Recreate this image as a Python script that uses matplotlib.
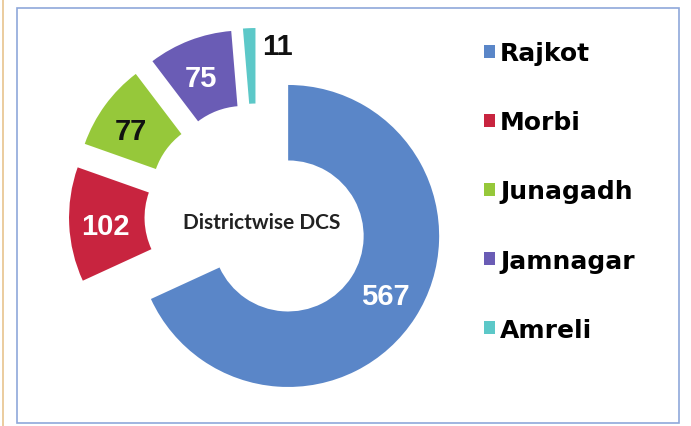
import matplotlib
matplotlib.use("Agg")
import matplotlib.pyplot as plt
from matplotlib.patches import Rectangle
import numpy as np

categories = ["Rajkot", "Morbi", "Junagadh", "Jamnagar", "Amreli"]
values = [567, 102, 77, 75, 11]
colors = ["#5A86C8", "#C8243F", "#96C83A", "#6A5CB5", "#5CC8C8"]
label_colors = ["white", "white", "#111111", "white", "#111111"]
explode = [0.245, 0.245, 0.245, 0.245, 0.245]
center_title = "Districtwise DCS"

W, H = 691, 427
fig = plt.figure(figsize=(W / 100, H / 100), dpi=100)
fig.patch.set_facecolor("white")

# frame
fig.patches.append(Rectangle((17 / W, 3 / H), (679 - 17) / W, (418 - 3) / H,
                             transform=fig.transFigure, fill=False,
                             edgecolor="#8FA8DA", linewidth=1.2))
fig.patches.append(Rectangle((2.5 / W, 0), 0.001, 1, transform=fig.transFigure,
                             fill=False, edgecolor="#E8C38E", linewidth=1.2))

ax = fig.add_axes([0, 0, 1, 1])
wedges, _ = ax.pie(values, explode=explode, colors=colors, startangle=90,
                   counterclock=False, radius=1.0,
                   wedgeprops=dict(width=0.5, linewidth=0))

s = 151.0  # px per unit radius
cx, cy = 257.0, 217.0
ax.set_xlim(-cx / s, (W - cx) / s)
ax.set_ylim(-(H - cy) / s, cy / s)
ax.set_aspect("auto")
ax.axis("off")

# value labels: (radial fraction, dx, dy) offsets in radius units
label_pos = [(0.70, 0.055, -0.02), (0.80, 0.04, -0.02), (0.80, 0.01, -0.05),
             (0.80, 0.0, -0.06), (1.0, 0.19, -0.12)]
for w, v, c, (lr, dx, dy) in zip(wedges, values, label_colors, label_pos):
    th = np.deg2rad((w.theta1 + w.theta2) / 2)
    ox, oy = w.center
    x = ox + lr * np.cos(th) + dx
    y = oy + lr * np.sin(th) + dy
    ax.text(x, y, str(v), ha="center", va="center", color=c,
            fontsize=21, fontweight="bold", family="Liberation Sans")

ax.text(0.03, -0.04, center_title, ha="center", va="center",
        fontsize=15, fontweight="bold", family="Lato", color="#222222")

leg = ax.legend(wedges, categories, loc="upper left",
                bbox_to_anchor=(472 / W, 1 - 30 / H), frameon=False,
                prop=dict(family="DejaVu Sans", weight="bold", size=18),
                handlelength=0.42, handleheight=0.42, handletextpad=0.2,
                labelspacing=1.8, borderpad=0)

fig.savefig("out.png", dpi=100, facecolor="white")
